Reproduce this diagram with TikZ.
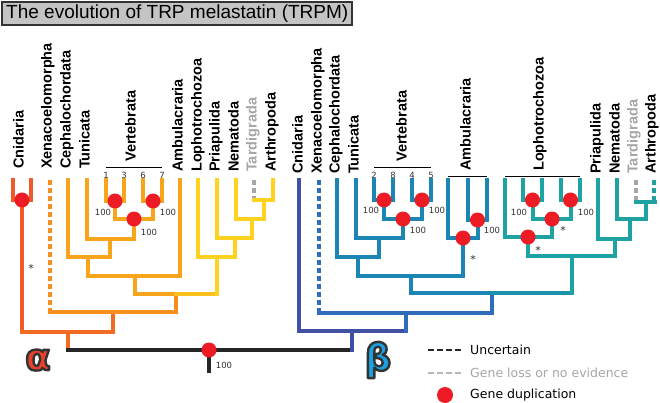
\documentclass[tikz,border=0pt]{standalone}
\usepackage{fontspec}
\setmainfont{DejaVu Sans}
\newfontfamily\titlefont{Liberation Sans}
\newfontfamily\labelfont{Liberation Sans}
\definecolor{dupred}{HTML}{ED1C24}
\definecolor{aCn}{HTML}{EF5A28}
\definecolor{aBase}{HTML}{F26B22}
\definecolor{aXeno}{HTML}{F7901E}
\definecolor{aDeut}{HTML}{F9A51B}
\definecolor{aProt}{HTML}{FFD21F}
\definecolor{bCn}{HTML}{4150A2}
\definecolor{bXeno}{HTML}{2F6DBA}
\definecolor{bDeut}{HTML}{1B85B4}
\definecolor{bProt}{HTML}{1EA2A2}
\definecolor{lossgray}{HTML}{A6A6A6}
\definecolor{titlegray}{HTML}{C4C4C4}
\definecolor{alphared}{HTML}{E8412C}
\definecolor{betablue}{HTML}{1BA1E2}
\newcommand{\outlined}[2]{\textcolor{#1}{\special{pdf:literal 0.2 0.2 0.2 RG 2.4 w 1 j 2 Tr}#2\special{pdf:literal 0 Tr}}}
\tikzset{
 br/.style={line width=3.2pt, line cap=rect},
 dsh/.style={line width=3.2pt, line cap=butt, dash pattern=on 5pt off 3pt},
 dup/.style={circle, fill=dupred, inner sep=0pt, minimum size=15pt},
 taxon/.style={rotate=90, anchor=mid west, inner sep=0pt, font=\labelfont\fontsize{14.5}{14.5}\selectfont\bfseries},
 boot/.style={font=\fontsize{8.5}{8.5}\selectfont, text=black!80, inner sep=0pt},
 star/.style={font=\fontsize{11}{11}\selectfont, text=black!80, inner sep=0pt},
 leafnum/.style={font=\fontsize{8.5}{8.5}\selectfont, text=black!80, inner sep=0pt},
 cladebar/.style={line width=0.9pt},
 legtext/.style={anchor=west, inner sep=0pt, font=\fontsize{12.5}{12.5}\selectfont},
 greek/.style={inner sep=0pt, font=\fontsize{37}{37}\selectfont\bfseries},
}
\begin{document}
\begin{tikzpicture}[x=1pt,y=-1pt]
\useasboundingbox (0,0) rectangle (660,403);
% title
\draw[line width=1.5pt, draw=black!80, fill=titlegray] (2,2) rectangle (352,25);
\node[anchor=west, inner sep=0pt] (title) at (6,14) {\titlefont\fontsize{19}{19}\selectfont The evolution of TRP melastatin (TRPM)};

% ===== alpha tree =====
\draw[br,aCn] (13,180) |- (31,200) -- (31,180);
\draw[br,aCn] (22,200) -- (22,332);
\draw[br,aBase] (22,332) -- (113,332);
\draw[br,aBase] (68,332) -- (68,350);
\draw[br,aBase] (113,332) -- (113,312);
\draw[dsh,aXeno] (50,180) -- (50,312);
\draw[br,aXeno] (50,312) -- (176,312);
\draw[br,aXeno] (176,312) -- (176,294);
\draw[br,aDeut] (135,294) -- (176,294);
\draw[br,aProt!60!aDeut] (176,294) -- (217,294);
% deuterostomes
\draw[br,aDeut] (135,294) -- (135,276);
\draw[br,aDeut] (88,276) -- (180,276);
\draw[br,aDeut] (180,276) -- (180,180);
\draw[br,aDeut] (88,276) -- (88,257);
\draw[br,aDeut] (68,257) -- (110,257);
\draw[br,aDeut] (68,257) -- (68,180);
\draw[br,aDeut] (110,257) -- (110,239);
\draw[br,aDeut] (87,239) -- (134,239);
\draw[br,aDeut] (87,239) -- (87,180);
\draw[br,aDeut] (134,239) -- (134,219);
\draw[br,aDeut] (115,201) |- (153,219) -- (153,201);
\draw[br,aDeut] (106,180) |- (124,201) -- (124,180);
\draw[br,aDeut] (143,180) |- (162,201) -- (162,180);
% protostomes
\draw[br,aProt] (217,294) -- (217,257);
\draw[br,aProt] (198,257) -- (235,257);
\draw[br,aProt] (198,257) -- (198,180);
\draw[br,aProt] (235,257) -- (235,238);
\draw[br,aProt] (217,238) -- (252,238);
\draw[br,aProt] (217,238) -- (217,180);
\draw[br,aProt] (252,238) -- (252,219);
\draw[br,aProt] (236,219) -- (264,219);
\draw[br,aProt] (236,219) -- (236,180);
\draw[br,aProt] (264,219) -- (264,200);
\draw[br,aProt] (254,200) -- (273,200);
\draw[br,aProt] (273,200) -- (273,180);
\draw[dsh,lossgray] (254,180) -- (254,198.4);

% ===== root =====
\draw[br,black!85] (68,350) -- (352,350);
\draw[br,black!85] (209,350) -- (209,371);

% ===== beta tree =====
\draw[br,bCn] (299,180) -- (299,331) -- (406,331);
\draw[br,bCn] (352,331) -- (352,350);
\draw[br,bXeno] (406,331) -- (406,313);
\draw[dsh,bXeno] (319,180) -- (319,313);
\draw[br,bXeno] (319,313) -- (492,313);
\draw[br,bXeno] (492,313) -- (492,293);
\draw[br,bDeut] (411,293) -- (492,293);
\draw[br,bProt!50!bDeut] (492,293) -- (572,293);
% deuterostomes
\draw[br,bDeut] (411,293) -- (411,276);
\draw[br,bDeut] (358,276) -- (463,276);
\draw[br,bDeut] (358,276) -- (358,257);
\draw[br,bDeut] (337,257) -- (379,257);
\draw[br,bDeut] (337,257) -- (337,180);
\draw[br,bDeut] (379,257) -- (379,238);
\draw[br,bDeut] (356,238) -- (403,238);
\draw[br,bDeut] (356,238) -- (356,180);
\draw[br,bDeut] (403,238) -- (403,219);
\draw[br,bDeut] (384,200) |- (422,219) -- (422,200);
\draw[br,bDeut] (374,180) |- (393,200) -- (393,180);
\draw[br,bDeut] (412,180) |- (431,200) -- (431,180);
\draw[br,bDeut] (463,276) -- (463,238);
\draw[br,bDeut] (448,180) |- (478,238) -- (478,220);
\draw[br,bDeut] (468,180) |- (487,220) -- (487,180);
% protostomes
\draw[br,bProt] (572,293) -- (572,256);
\draw[br,bProt] (528,256) -- (615,256);
\draw[br,bProt] (528,256) -- (528,237);
\draw[br,bProt] (505,180) |- (552,237) -- (552,219);
\draw[br,bProt] (533,200) |- (571,219) -- (571,200);
\draw[br,bProt] (523,180) |- (542,200) -- (542,180);
\draw[br,bProt] (561,180) |- (580,200) -- (580,180);
\draw[br,bProt] (615,256) -- (615,239);
\draw[br,bProt] (598,180) |- (630,239) -- (630,219);
\draw[br,bProt] (617,180) |- (646,219) -- (646,202);
\draw[br,bProt] (636,202) -- (655,202);
\draw[dsh,lossgray] (636,180) -- (636,200.4);
\draw[dsh,bProt] (654,180) -- (654,200.4);

% ===== duplication dots =====
\node[dup] (da1) at (22,200) {};
\node[dup] (da2) at (115,201) {};
\node[dup] (da3) at (153,201) {};
\node[dup] (da4) at (134,219) {};
\node[dup] (droot) at (209,350) {};
\node[dup] (db1) at (384,200) {};
\node[dup] (db2) at (422,200) {};
\node[dup] (db3) at (403,219) {};
\node[dup] (db4) at (477.5,220) {};
\node[dup] (db5) at (463,238) {};
\node[dup] (db6) at (532.5,200) {};
\node[dup] (db7) at (570.5,200) {};
\node[dup] (db8) at (552,219) {};
\node[dup] (db9) at (528,237) {};

% ===== support values =====
\node[boot] (ba1) at (103,212) {100};
\node[boot] (ba2) at (168,212) {100};
\node[boot] (ba3) at (149,232) {100};
\node[boot] (broot) at (224,365) {100};
\node[boot] (bb1) at (371,210) {100};
\node[boot] (bb2) at (437,210) {100};
\node[boot] (bb3) at (418,230) {100};
\node[boot] (bb4) at (492,230) {100};
\node[boot] (bb5) at (519,212) {100};
\node[boot] (bb6) at (586,212) {100};
\node[star] (sa1) at (31,268) {*};
\node[star] (sb1) at (473,259) {*};
\node[star] (sb2) at (563,230) {*};
\node[star] (sb3) at (538,250) {*};

% ===== clade bars and numbers =====
\draw[cladebar] (106,167) -- (162,167);
\draw[cladebar] (374,167) -- (431,167);
\draw[cladebar] (448,176) -- (487,176);
\draw[cladebar] (505,176) -- (580,176);
\node[leafnum] (n1) at (106,175) {1};
\node[leafnum] (n3) at (124,175) {3};
\node[leafnum] (n6) at (143,175) {6};
\node[leafnum] (n7) at (162,175) {7};
\node[leafnum] (n2) at (374,175) {2};
\node[leafnum] (n8) at (393,175) {8};
\node[leafnum] (n4) at (412,175) {4};
\node[leafnum] (n5) at (431,175) {5};

% ===== taxon labels =====
\node[taxon] (la1) at (21,169) {Cnidaria};
\node[taxon] (la2) at (49,169) {Xenacoelomorpha};
\node[taxon] (la3) at (68,169) {Cephalochordata};
\node[taxon] (la4) at (87,169) {Tunicata};
\node[taxon] (la5) at (133,162) {Vertebrata};
\node[taxon] (la6) at (180,172) {Ambulacraria};
\node[taxon] (la7) at (199,172) {Lophotrochozoa};
\node[taxon] (la8) at (217,172) {Priapulida};
\node[taxon] (la9) at (236,172) {Nematoda};
\node[taxon,text=lossgray] (la10) at (254,172) {Tardigrada};
\node[taxon] (la11) at (273,172) {Arthropoda};
\node[taxon] (lb1) at (300,174) {Cnidaria};
\node[taxon] (lb2) at (319,174) {Xenacoelomorpha};
\node[taxon] (lb3) at (337,174) {Cephalochordata};
\node[taxon] (lb4) at (356,174) {Tunicata};
\node[taxon] (lb5) at (404,162) {Vertebrata};
\node[taxon] (lb6) at (468,171) {Ambulacraria};
\node[taxon] (lb7) at (541,171) {Lophotrochozoa};
\node[taxon] (lb8) at (598,174) {Priapulida};
\node[taxon] (lb9) at (617,174) {Nematoda};
\node[taxon,text=lossgray] (lb10) at (635,174) {Tardigrada};
\node[taxon] (lb11) at (653,174) {Arthropoda};

% ===== alpha / beta =====
\node[greek] (alpha) at (38,360) {\outlined{alphared}{α}};
\node[greek] (beta) at (378,360) {\outlined{betablue}{β}};

% ===== legend =====
\coordinate (l1a) at (428,350); \coordinate (l1b) at (462,350);
\coordinate (l2a) at (428,373); \coordinate (l2b) at (462,373);
\draw[line width=2.6pt, black!85, dash pattern=on 6pt off 3pt] (l1a) -- (l1b);
\draw[line width=2.6pt, lossgray!80, dash pattern=on 6pt off 3pt] (l2a) -- (l2b);
\node[legtext] (t1) at (470,350) {Uncertain};
\node[legtext,text=lossgray] (t2) at (470,373) {Gene loss or no evidence};
\node[dup,minimum size=16pt] (ldot) at (445,395) {};
\node[legtext] (t3) at (470,395) {Gene duplication};
\end{tikzpicture}
\end{document}
